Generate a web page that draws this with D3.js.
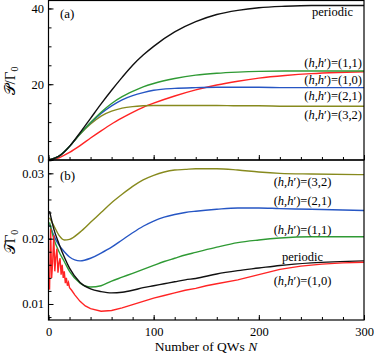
<!DOCTYPE html>
<html lang="en">
<head>
<meta charset="UTF-8">
<title>Power and time vs number of QWs</title>
<script src="https://d3js.org/d3.v7.min.js"></script>
<style>
  body { margin: 0; background: #fff; }
  svg { display: block; }
  text { font-family: "Liberation Serif", "Times New Roman", serif; fill: #000; }
  .axis line { stroke: #000; stroke-width: 1; }
  .axis text { font-size: 12.5px; }
  .axis .domain { display: none; }
  .frame { fill: none; stroke: #000; stroke-width: 1.2; }
  .curve { fill: none; stroke-width: 1.4; }
  .lbl { font-size: 12.5px; }
</style>
</head>
<body>
<svg id="chart" width="374" height="355"></svg>
<script>
// panel (a): P / Gamma0
var nA = [0, 10, 20, 30, 40, 50, 60, 70, 80, 90, 100, 120, 140, 160, 180, 200, 225, 250, 275, 300];
var aPeriodic = [0, 1.0, 3.6, 7.2, 11.0, 14.8, 18.4, 21.8, 25.0, 27.7, 30.0, 33.8, 36.5, 38.4, 39.5, 40.2, 40.6, 40.8, 40.8, 40.8];
var aH11 = [0, 1.0, 3.6, 6.9, 9.9, 12.6, 14.9, 16.7, 18.1, 19.3, 20.2, 21.5, 22.4, 22.9, 23.2, 23.4, 23.5, 23.5, 23.5, 23.5];
var aH10 = [0, 0.6, 2.0, 3.8, 5.8, 7.7, 9.5, 11.1, 12.6, 13.9, 15.0, 16.9, 18.5, 19.8, 20.8, 21.6, 22.3, 22.8, 23.1, 23.3];
var aH21 = [0, 1.0, 3.6, 6.9, 9.8, 12.3, 14.3, 15.9, 17.0, 17.8, 18.4, 18.9, 19.1, 19.2, 19.2, 19.2, 19.1, 19.1, 19.1, 19.1];
var aH32 = [0, 1.0, 3.6, 6.8, 9.5, 11.6, 12.9, 13.7, 14.1, 14.3, 14.4, 14.4, 14.4, 14.4, 14.3, 14.3, 14.2, 14.2, 14.2, 14.2];

// panel (b): T * Gamma0
var nB = [1, 5, 10, 15, 20, 30, 40, 50, 60, 70, 80, 90, 100, 110, 120, 130, 140, 160, 180, 200, 220, 250, 300];
var bPeriodic = [0.0242, 0.0215, 0.0192, 0.0172, 0.0155, 0.0133, 0.0123, 0.0119, 0.0117, 0.0118, 0.0121, 0.0125, 0.0128, 0.0131, 0.0134, 0.0137, 0.0139, 0.0146, 0.0151, 0.0155, 0.0159, 0.0163, 0.0166];
var bH32 = [0.0232, 0.0220, 0.0205, 0.0198, 0.0199, 0.0210, 0.0225, 0.0240, 0.0255, 0.0268, 0.0280, 0.0290, 0.0297, 0.0302, 0.0305, 0.0306, 0.0307, 0.0307, 0.0305, 0.0302, 0.0300, 0.0299, 0.0298];
var bH21 = [0.0222, 0.0205, 0.0190, 0.0180, 0.0172, 0.0166, 0.0170, 0.0178, 0.0187, 0.0198, 0.0209, 0.0219, 0.0227, 0.0233, 0.0237, 0.0240, 0.0242, 0.0245, 0.0247, 0.0247, 0.0246, 0.0245, 0.0243];
var bH11 = [0.0225, 0.0200, 0.0180, 0.0165, 0.0150, 0.0132, 0.0126, 0.0128, 0.0135, 0.0141, 0.0147, 0.0153, 0.0159, 0.0165, 0.0170, 0.0175, 0.0179, 0.0187, 0.0194, 0.0198, 0.0201, 0.0203, 0.0203];
// (1,0) is noisy at small N, so it has its own denser N list
var nBRed = [1, 2, 3, 4, 5, 6, 7, 8, 9, 10, 11, 12, 13, 14, 15, 16, 17, 18, 19, 20, 22, 25, 30, 35, 40, 50, 60, 70, 80, 90, 100, 110, 120, 130, 140, 150, 160, 180, 200, 220, 240, 260, 280, 300];
var bH10 = [0.0122, 0.0215, 0.0140, 0.0165, 0.0205, 0.0150, 0.0172, 0.0185, 0.0148, 0.0163, 0.0170, 0.0145, 0.0160, 0.0140, 0.0150, 0.0132, 0.0140, 0.0128, 0.0133, 0.0125, 0.0121, 0.0114, 0.0104, 0.0097, 0.0093, 0.0089, 0.0090, 0.0094, 0.0099, 0.0104, 0.0109, 0.0113, 0.0117, 0.0121, 0.0124, 0.0128, 0.0131, 0.0137, 0.0145, 0.0153, 0.0158, 0.0161, 0.0163, 0.0164];

var xMajor = [0, 100, 200, 300];
var yMajorA = [0, 20, 40];
var yMajorB = [0.01, 0.02, 0.03];
var seriesNames = ["periodic", "(1,1)", "(1,0)", "(2,1)", "(3,2)"];

var colors = {
    "periodic": "#111111",
    "(1,1)": "#2f9a34",
    "(1,0)": "#ff2424",
    "(2,1)": "#2656c4",
    "(3,2)": "#878a1e"
};

var svg = d3.select("#chart");
var left = 48.5, right = 364;

var x = d3.scaleLinear().domain([0, 300]).range([left, right]);
var yA = d3.scaleLinear().domain([0, 42.1]).range([160, 0.5]);
var yB = d3.scaleLinear().domain([0.00755, 0.03204]).range([320, 160]);

function zip(ns, vs) {
    return ns.map(function(n, i) { return [n, vs[i]]; });
}

var seriesA = {
    "periodic": zip(nA, aPeriodic),
    "(1,1)": zip(nA, aH11),
    "(1,0)": zip(nA, aH10),
    "(2,1)": zip(nA, aH21),
    "(3,2)": zip(nA, aH32)
};
var seriesB = {
    "periodic": zip(nB, bPeriodic),
    "(1,1)": zip(nB, bH11),
    "(1,0)": zip(nBRed, bH10),
    "(2,1)": zip(nB, bH21),
    "(3,2)": zip(nB, bH32)
};

// clip each panel
var defs = svg.append("defs");
defs.append("clipPath").attr("id", "clipA").append("rect")
    .attr("x", left).attr("y", 0.5).attr("width", right - left).attr("height", 159.5);
defs.append("clipPath").attr("id", "clipB").append("rect")
    .attr("x", left).attr("y", 160).attr("width", right - left).attr("height", 160);

function drawPanel(y, series, clipId, order, redLinear) {
    var g = svg.append("g").attr("clip-path", "url(#" + clipId + ")");
    order.forEach(function(name) {
        var line = d3.line()
            .x(function(d) { return x(d[0]); })
            .y(function(d) { return y(d[1]); })
            .curve(name === "(1,0)" && redLinear ? d3.curveLinear : d3.curveMonotoneX);
        g.append("path")
            .attr("class", "curve")
            .attr("stroke", colors[name])
            .attr("d", line(series[name]));
    });
}

drawPanel(yA, seriesA, "clipA", ["(1,0)", "(3,2)", "(2,1)", "(1,1)", "periodic"], false);
drawPanel(yB, seriesB, "clipB", ["(3,2)", "(2,1)", "(1,1)", "periodic", "(1,0)"], true);

// axes: inward ticks on left and bottom
function minorTicks(lo, hi, step) {
    return d3.range(Math.round((hi - lo) / step) + 1).map(function(i) { return +(lo + i * step).toFixed(6); });
}

// panel (a) left
svg.append("g").attr("class", "axis").attr("transform", "translate(" + left + ",0)")
    .call(d3.axisLeft(yA).tickValues(minorTicks(0, 40, 5)).tickSize(-3).tickFormat(""));
svg.append("g").attr("class", "axis").attr("transform", "translate(" + left + ",0)")
    .call(d3.axisLeft(yA).tickValues(yMajorA).tickSize(-5).tickPadding(4.5).tickFormat(d3.format("d")));
// panel (a) bottom (ticks only)
svg.append("g").attr("class", "axis").attr("transform", "translate(0,160)")
    .call(d3.axisBottom(x).tickValues(minorTicks(0, 300, 20)).tickSize(-3).tickFormat(""));
svg.append("g").attr("class", "axis").attr("transform", "translate(0,160)")
    .call(d3.axisBottom(x).tickValues(xMajor).tickSize(-5).tickFormat(""));

// panel (b) left
svg.append("g").attr("class", "axis").attr("transform", "translate(" + left + ",0)")
    .call(d3.axisLeft(yB).tickValues(minorTicks(0.008, 0.032, 0.002)).tickSize(-3).tickFormat(""));
svg.append("g").attr("class", "axis").attr("transform", "translate(" + left + ",0)")
    .call(d3.axisLeft(yB).tickValues(yMajorB).tickSize(-5).tickPadding(4.5).tickFormat(d3.format(".2f")));
// panel (b) bottom
svg.append("g").attr("class", "axis").attr("transform", "translate(0,320)")
    .call(d3.axisBottom(x).tickValues(minorTicks(0, 300, 20)).tickSize(-3).tickFormat(""));
svg.append("g").attr("class", "axis").attr("transform", "translate(0,320)")
    .call(d3.axisBottom(x).tickValues(xMajor).tickSize(-5).tickPadding(7).tickFormat(d3.format("d")));

// the "0" of panel (a) sits right above "0.03"; nudge it up a little
svg.selectAll(".axis text").filter(function(d) { return d === 0 && this.getAttribute("x") !== null && +this.getAttribute("x") < 0; })
    .attr("dy", "0.2em");

// frames
svg.append("rect").attr("class", "frame")
    .attr("x", left).attr("y", 0.5).attr("width", right - left).attr("height", 159.5);
svg.append("rect").attr("class", "frame")
    .attr("x", left).attr("y", 160).attr("width", right - left).attr("height", 160);

// axis titles
var ta = svg.append("text")
    .attr("transform", "translate(15,81) rotate(-90)")
    .attr("text-anchor", "middle")
    .style("font-size", "15px");
ta.append("tspan").text("\u{1D4AB}/\u0393");
ta.append("tspan").attr("dy", 3).style("font-size", "10px").text("0");

var tb = svg.append("text")
    .attr("transform", "translate(15,242) rotate(-90)")
    .attr("text-anchor", "middle")
    .style("font-size", "15px");
tb.append("tspan").text("\u{1D4AF}\u0393");
tb.append("tspan").attr("dy", 3).style("font-size", "10px").text("0");

var tx = svg.append("text")
    .attr("x", 206).attr("y", 351)
    .attr("text-anchor", "middle")
    .style("font-size", "13.5px");
tx.append("tspan").text("Number of QWs ");
tx.append("tspan").style("font-style", "italic").text("N");

// panel tags
svg.append("text").attr("x", 60).attr("y", 18).style("font-size", "13px").text("(a)");
svg.append("text").attr("x", 60).attr("y", 180).style("font-size", "13px").text("(b)");

// curve labels
function curveLabel(name, px, py, anchor) {
    var t = svg.append("text").attr("class", "lbl")
        .attr("x", px).attr("y", py).attr("text-anchor", anchor);
    if (name === "periodic") {
        t.text("periodic");
        return;
    }
    t.append("tspan").text("(");
    t.append("tspan").style("font-style", "italic").text("h");
    t.append("tspan").text(",");
    t.append("tspan").style("font-style", "italic").text("h");
    t.append("tspan").text("\u2032)=" + name);
}

var labelPosA = { "periodic": [353, 16], "(1,1)": [362, 67], "(1,0)": [362, 84], "(2,1)": [362, 100], "(3,2)": [362, 119] };
var labelPosB = { "periodic": [302.5, 261], "(1,1)": [302.5, 234], "(1,0)": [302.5, 285], "(2,1)": [302.5, 205], "(3,2)": [302.5, 186] };
seriesNames.forEach(function(name) {
    curveLabel(name, labelPosA[name][0], labelPosA[name][1], "end");
    curveLabel(name, labelPosB[name][0], labelPosB[name][1], "middle");
});
</script>
</body>
</html>
